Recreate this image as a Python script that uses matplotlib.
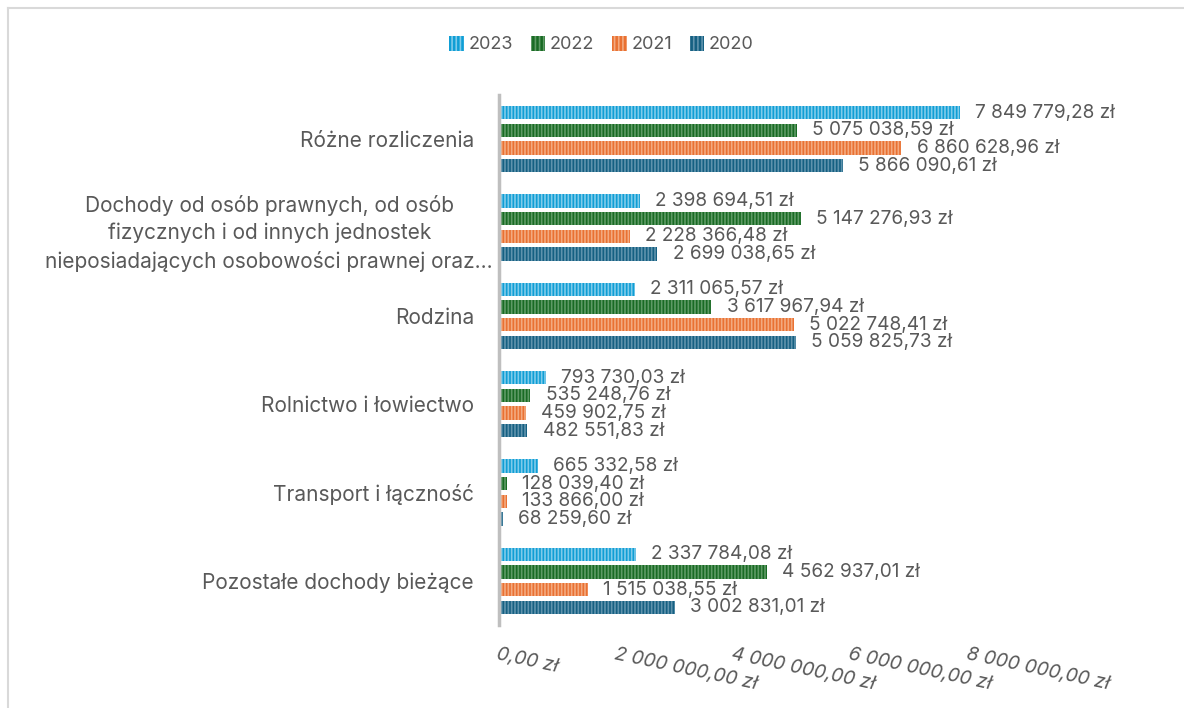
import numpy as np
import matplotlib.pyplot as plt
from matplotlib.patches import Patch
from matplotlib.lines import Line2D
from matplotlib.transforms import ScaledTranslation

plt.rcParams['font.family'] = ['Inter', 'DejaVu Sans']
plt.rcParams['hatch.linewidth'] = 1.2

# Data (categories listed top to bottom)
categories = [
    'Różne rozliczenia',
    'Dochody od osób prawnych, od osób\nfizycznych i od innych jednostek\nnieposiadających osobowości prawnej oraz...',
    'Rodzina',
    'Rolnictwo i łowiectwo',
    'Transport i łączność',
    'Pozostałe dochody bieżące',
]
years = ['2023', '2022', '2021', '2020']
v2023 = [7849779.28, 2398694.51, 2311065.57, 793730.03, 665332.58, 2337784.08]
v2022 = [5075038.59, 5147276.93, 3617967.94, 535248.76, 128039.40, 4562937.01]
v2021 = [6860628.96, 2228366.48, 5022748.41, 459902.75, 133866.00, 1515038.55]
v2020 = [5866090.61, 2699038.65, 5059825.73, 482551.83, 68259.60, 3002831.01]
x_ticks = [0, 2000000, 4000000, 6000000, 8000000]

colors = ['#0F9ED5', '#196B24', '#E97132', '#156082']
stripes = ['#7FCBEA', '#5E9A65', '#F3AA80', '#5F93AD']
text_col = '#595959'


def pln(v):
    s = f'{v:,.2f}'.replace(',', ' ').replace('.', ',')
    return s + ' zł'


fig = plt.figure(figsize=(11.84, 7.08), dpi=100)
ax = fig.add_axes([499 / 1184, 83 / 708, 528 / 1184, 530 / 708])

y = np.arange(len(categories))
series = [v2023, v2022, v2021, v2020]
offsets = [-0.3, -0.1, 0.1, 0.3]
for vals, off, c, sc, lab in zip(series, offsets, colors, stripes, years):
    bars = ax.barh(y + off, vals, height=0.15, color=c, edgecolor=sc,
                   linewidth=0, hatch='|||||', label=lab)
    ax.bar_label(bars, labels=[pln(v) for v in vals], padding=11,
                 fontsize=13.7, color=text_col)

ax.set_xlim(0, 9000000)
ax.set_ylim(len(categories) - 0.5, -0.5)
ax.set_yticks(y)
ax.set_yticklabels(categories, fontsize=15, color=text_col,
                   multialignment='center', linespacing=1.45)
ax.tick_params(axis='y', length=0, pad=18)
ax.set_xticks(x_ticks)
ax.set_xticklabels([pln(v) for v in x_ticks], fontsize=13.8, color=text_col,
                   style='italic', rotation=-12, rotation_mode='anchor',
                   ha='left', va='top')
ax.tick_params(axis='x', length=0, pad=15)

# long label sits a bit further right
lbl = ax.get_yticklabels()[1]
lbl.set_transform(lbl.get_transform() + ScaledTranslation(0.19, 0, fig.dpi_scale_trans))

for s in ['top', 'right', 'bottom']:
    ax.spines[s].set_visible(False)
ax.spines['left'].set_color('#BFBFBF')
ax.spines['left'].set_linewidth(2.5)

handles = [Patch(facecolor=c, edgecolor=sc, linewidth=0, hatch='||||')
           for c, sc in zip(colors, stripes)]
fig.legend(handles, years, loc='center', bbox_to_anchor=(0.508, 0.937),
           ncol=4, frameon=False, fontsize=13, handlelength=0.8,
           handleheight=0.9, handletextpad=0.25, columnspacing=1.0,
           labelcolor=text_col)

# chart area frame (partially visible)
fig.add_artist(Line2D([8 / 1184, 8 / 1184], [0, 1 - 8 / 708],
                      transform=fig.transFigure, color='#D9D9D9', lw=1.5))
fig.add_artist(Line2D([8 / 1184, 1], [1 - 8 / 708, 1 - 8 / 708],
                      transform=fig.transFigure, color='#D9D9D9', lw=1.5))

fig.savefig('out.png', dpi=100)
